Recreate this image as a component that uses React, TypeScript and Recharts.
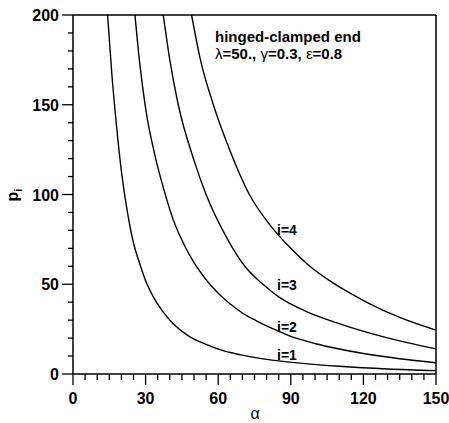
import {LineChart, Line, XAxis, YAxis, ReferenceLine, ReferenceDot} from "recharts"

// alpha / p_i readings for each mode
const alpha1 = [14.3, 16, 18, 20, 22.5, 25, 27.7, 30, 33.2, 37, 41.4, 48, 55, 62, 69, 76, 83, 95, 110, 130, 150]
const p1 = [200, 168, 138, 113, 90, 73, 61, 52, 43, 35, 28, 21, 16.5, 13, 10.8, 9, 7.6, 5.9, 4.3, 2.8, 1.9]

const alpha2 = [25.6, 27.5, 30, 34, 37.5, 41.4, 46.3, 50, 55, 60, 65, 70, 76, 83, 90, 100, 110, 120, 135, 150]
const p2 = [200, 174, 148, 121, 103, 86, 71, 62, 52.5, 45, 39, 34, 29.5, 25, 21, 17, 13.9, 11.4, 8.5, 6.3]

const alpha3 = [37.3, 40, 43.5, 50, 55, 63.5, 71, 78, 85, 97, 109, 128, 150]
const p3 = [200, 175, 150, 119, 100, 76, 60, 50.5, 43, 34.5, 28.5, 20.8, 14]

const alpha4 = [49, 52.5, 58, 65, 72.5, 82, 90, 97, 106, 114.5, 122, 135, 150]
const p4 = [200, 176, 150, 124, 101, 82, 70, 61, 52, 45, 39.5, 31.5, 24.4]

const seriesNames = ["i=1", "i=2", "i=3", "i=4"]
const labelAlpha = 84.3
const labelP = [10.6, 26.2, 49.6, 80.2]

const xTicks = [0, 5, 10, 15, 20, 25, 30, 35, 40, 45, 50, 55, 60, 65, 70, 75, 80, 85, 90, 95, 100, 105, 110, 115, 120, 125, 130, 135, 140, 145, 150]
const xMajor = [0, 30, 60, 90, 120, 150]
const yTicks = [0, 10, 20, 30, 40, 50, 60, 70, 80, 90, 100, 110, 120, 130, 140, 150, 160, 170, 180, 190, 200]
const yMajor = [0, 50, 100, 150, 200]

const toPoints = (a: number[], p: number[]) => a.map((x, i) => ({alpha: x, p: p[i]}))
const series = [toPoints(alpha1, p1), toPoints(alpha2, p2), toPoints(alpha3, p3), toPoints(alpha4, p4)]

const font = "'Liberation Sans', Arial, sans-serif"

function XTick({x, y, payload}: any) {
    const major = xMajor.includes(payload.value)
    return (
        <g>
            <line x1={x} x2={x} y1={y} y2={y + (major ? 11 : 6)} stroke="#000" strokeWidth={1.3} />
            {major && (
                <text x={x} y={y + 30} textAnchor="middle" fontFamily={font} fontWeight="bold" fontSize={16} fill="#000">
                    {payload.value}
                </text>
            )}
        </g>
    )
}

function YTick({x, y, payload}: any) {
    const major = yMajor.includes(payload.value)
    return (
        <g>
            <line x1={x} x2={x - (major ? 11 : 5)} y1={y} y2={y} stroke="#000" strokeWidth={1.3} />
            {major && (
                <text x={x - 14} y={y + 6} textAnchor="end" fontFamily={font} fontWeight="bold" fontSize={16} fill="#000">
                    {payload.value}
                </text>
            )}
        </g>
    )
}

const seriesLabel = (name: string) => (props: any) => {
    const vb = props.viewBox || {}
    return (
        <text x={vb.x} y={(vb.y ?? 0) + 5} fontFamily={font} fontWeight="bold" fontSize={14} fill="#000">
            {name}
        </text>
    )
}

export default function App() {
    return (
        <div style={{position: "absolute", left: 0, top: 0, width: 449, height: 423, background: "#fff"}}>
            <LineChart width={449} height={423} margin={{top: 15, right: 13, bottom: 9, left: 13}}>
                <XAxis
                    dataKey="alpha"
                    type="number"
                    domain={[0, 150]}
                    ticks={xTicks}
                    interval={0}
                    tickSize={0}
                    tickMargin={0}
                    tickLine={false}
                    tick={<XTick />}
                    height={40}
                    axisLine={{stroke: "#000", strokeWidth: 1.5}}
                    allowDuplicatedCategory={false}
                />
                <YAxis
                    type="number"
                    domain={[0, 200]}
                    ticks={yTicks}
                    interval={0}
                    tickSize={0}
                    tickMargin={0}
                    tickLine={false}
                    tick={<YTick />}
                    width={60}
                    allowDataOverflow
                    axisLine={{stroke: "#000", strokeWidth: 1.5}}
                    label={{
                        content: () => (
                            <text transform="translate(18, 195) rotate(-90)" textAnchor="middle" fontFamily={font} fontWeight="bold" fontSize={16} fill="#000">
                                p<tspan fontSize={11} dy={4}>i</tspan>
                            </text>
                        ),
                    }}
                />
                <ReferenceLine y={200} stroke="#000" strokeWidth={1.3} />
                <ReferenceLine x={150} stroke="#000" strokeWidth={1.5} />
                {series.map((d, i) => (
                    <Line
                        key={seriesNames[i]}
                        data={d}
                        dataKey="p"
                        type="monotone"
                        stroke="#000"
                        strokeWidth={1.4}
                        dot={false}
                        isAnimationActive={false}
                    />
                ))}
                {seriesNames.map((n, i) => (
                    <ReferenceDot key={n} x={labelAlpha} y={labelP[i]} r={0} stroke="none" fill="none" label={{content: seriesLabel(n)}} />
                ))}
            </LineChart>
            <div style={{position: "absolute", left: 215, top: 28, fontFamily: font, fontWeight: "bold", fontSize: 15, lineHeight: "17px", color: "#000"}}>
                <div>hinged-clamped end</div>
                <div>
                    <span style={{fontWeight: "normal"}}>λ</span>=50., <span style={{fontWeight: "normal"}}>γ</span>=0.3, <span style={{fontWeight: "normal"}}>ε</span>=0.8
                </div>
            </div>
            <div style={{position: "absolute", left: 0, width: 449, textAlign: "center", top: 406, paddingLeft: 61, boxSizing: "border-box", fontFamily: font, fontSize: 16, lineHeight: "15px", color: "#000"}}>
                α
            </div>
        </div>
    )
}
